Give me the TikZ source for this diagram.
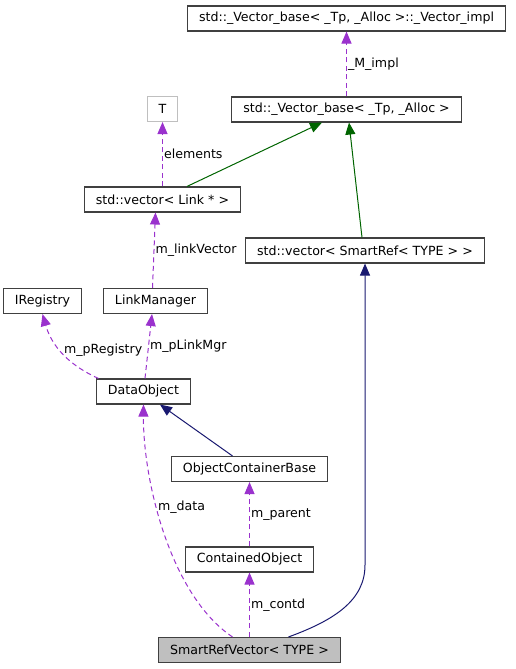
\documentclass[tikz,border=0pt]{standalone}
\usepackage{fontspec}
\setmainfont{DejaVu Sans}
\usetikzlibrary{arrows.meta}
\definecolor{Orchid}{HTML}{9A32CD}
\definecolor{DkGreen}{HTML}{006400}
\definecolor{Navy}{HTML}{191970}
\definecolor{Frame}{HTML}{404040}
\definecolor{Grey}{HTML}{BFBFBF}

\begin{document}
\begin{tikzpicture}[x=1pt,y=-1pt,
  cls/.style={draw=Frame,fill=white,line width=1.1pt,minimum height=25pt,
    inner xsep=11.5pt,inner ysep=0pt,font=\fontsize{12.6}{15}\selectfont},
  tip/.style={-{Triangle[length=12pt,width=10pt]}},
  member/.style={tip,Orchid,line width=1pt,dash pattern=on 5pt off 3.5pt},
  inherit/.style={tip,line width=1pt},
  lbl/.style={font=\fontsize{12.6}{15}\selectfont,inner sep=1pt,anchor=west,text=black}]
  \useasboundingbox (0,0) rectangle (515,669);

  \node[cls] (impl) at (346.5,18.5) {std::\_Vector\_base< \_Tp, \_Alloc >::\_Vector\_impl};
  \node[cls,draw=Grey] (T) at (162.5,109) {T};
  \node[cls] (vbase) at (346.5,109.5) {std::\_Vector\_base< \_Tp, \_Alloc >};
  \node[cls] (vlink) at (162.5,199.5) {std::vector< Link * >};
  \node[cls] (vsref) at (365,250.5) {std::vector< SmartRef< TYPE > >};
  \node[cls] (ireg) at (42.5,301) {IRegistry};
  \node[cls] (lmgr) at (155.5,301) {LinkManager};
  \node[cls] (dobj) at (143.5,391.5) {DataObject};
  \node[cls] (ocb) at (249.5,469) {ObjectContainerBase};
  \node[cls] (cobj) at (249.5,559.5) {ContainedObject};
  \node[cls,fill=Grey] (srv) at (249.5,650) {SmartRefVector< TYPE >};

  % members
  \draw[member] (vbase) -- (impl) node[lbl,pos=.5] {\_M\_impl};
  \draw[member] (vlink) -- (T) node[lbl,pos=.5] {elements};
  \draw[member] ([xshift=-3pt]lmgr.north) -- ([xshift=-7pt]vlink.south)
    node[lbl,pos=.5] {m\_linkVector};
  \draw[member] ([xshift=-45pt]dobj.north) .. controls (62,362) and (50,340) .. (ireg.south)
    node[lbl,pos=.5,xshift=3pt] {m\_pRegistry};
  \draw[member] ([xshift=1.5pt]dobj.north) -- ([xshift=-3.5pt]lmgr.south)
    node[lbl,pos=.5] {m\_pLinkMgr};
  \draw[member] ([xshift=-17pt]srv.north) .. controls (170,595) and (143,480) .. (dobj.south)
    node[lbl,pos=.6] {m\_data};
  \draw[member] (cobj) -- (ocb) node[lbl,pos=.5] {m\_parent};
  \draw[member] (srv) -- (cobj) node[lbl,pos=.5] {m\_contd};

  % bases
  \draw[inherit,DkGreen] ([xshift=24.5pt]vlink.north) -- ([xshift=-24.5pt]vbase.south);
  \draw[inherit,DkGreen] ([xshift=-3pt]vsref.north) -- ([xshift=2.5pt]vbase.south);
  \draw[inherit,Navy] ([xshift=-17pt]ocb.north) -- ([xshift=16.5pt]dobj.south);
  \draw[inherit,Navy] ([xshift=39pt]srv.north) .. controls (335,620) and (365,600) .. (365,565)
    -- (vsref.south);
\end{tikzpicture}
\end{document}
